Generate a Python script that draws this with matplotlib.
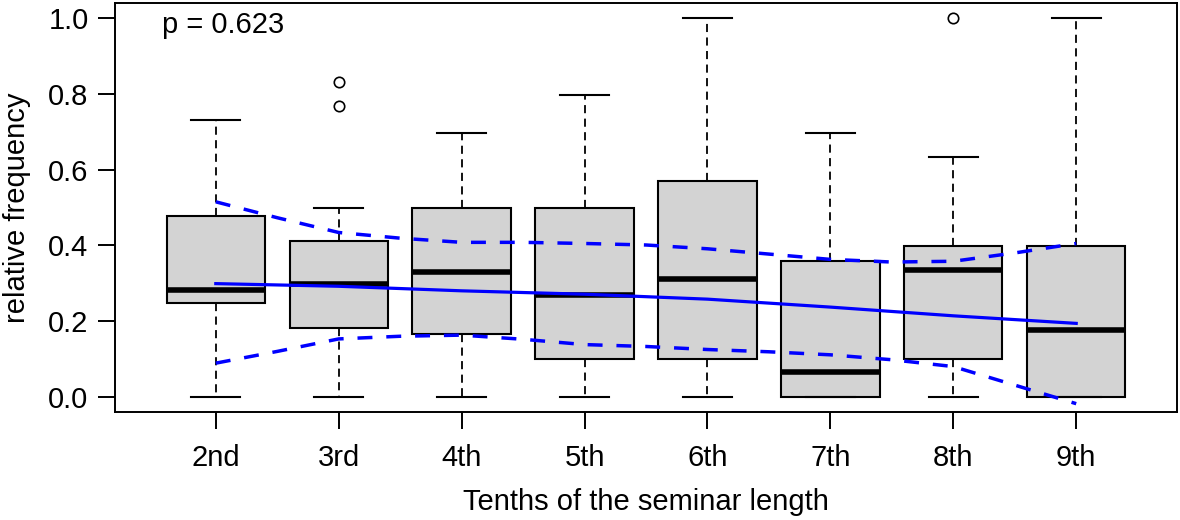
import numpy as np
import matplotlib
matplotlib.use("Agg")
import matplotlib.pyplot as plt

# --- Data ---
labels = ['2nd', '3rd', '4th', '5th', '6th', '7th', '8th', '9th']
q1 = [0.249, 0.181, 0.166, 0.100, 0.100, 0.0, 0.100, 0.0]
medians = [0.283, 0.299, 0.331, 0.268, 0.311, 0.065, 0.335, 0.176]
q3 = [0.478, 0.411, 0.498, 0.500, 0.571, 0.358, 0.398, 0.398]
whisk_lo = [0.0, 0.0, 0.0, 0.0, 0.0, 0.0, 0.0, 0.0]
whisk_hi = [0.730, 0.498, 0.697, 0.797, 1.0, 0.697, 0.633, 1.0]
outliers = [[], [0.832, 0.768], [], [], [], [], [1.0], []]

# fitted trend at each tenth
fit_vals = [0.299, 0.292, 0.280, 0.271, 0.258, 0.237, 0.214, 0.194]

# confidence band, read at half steps
band_x = [1.0, 1.5, 2.0, 2.5, 3.0, 3.5, 4.0, 4.5, 5.0, 5.5, 6.0, 6.5, 7.0, 7.5, 8.0]
band_hi = [0.515, 0.473, 0.434, 0.419, 0.408, 0.408, 0.405, 0.401, 0.391,
           0.377, 0.363, 0.356, 0.358, 0.380, 0.405]
band_lo = [0.089, 0.120, 0.153, 0.160, 0.163, 0.152, 0.138, 0.133, 0.125,
           0.119, 0.111, 0.098, 0.080, 0.031, -0.018]

p_text = "p = 0.623"

plt.rcParams['font.family'] = ['Liberation Sans', 'DejaVu Sans']
FS = 21

fig = plt.figure(figsize=(11.8, 5.2), dpi=100)
ax = fig.add_axes([115 / 1180, 1 - 412 / 520, 1062 / 1180, 409 / 520])

positions = np.arange(1, len(labels) + 1)
stats = []
for i in range(len(labels)):
    stats.append(dict(med=medians[i], q1=q1[i], q3=q3[i],
                      whislo=whisk_lo[i], whishi=whisk_hi[i],
                      fliers=outliers[i], label=labels[i]))

ax.bxp(stats, positions=positions, widths=0.8, capwidths=0.4, patch_artist=True,
       boxprops=dict(facecolor='#d3d3d3', edgecolor='black', linewidth=1.5),
       medianprops=dict(color='black', linewidth=4, solid_capstyle='butt'),
       whiskerprops=dict(color='black', linewidth=1.3, linestyle=(0, (4.5, 3))),
       capprops=dict(color='black', linewidth=1.5),
       flierprops=dict(marker='o', markerfacecolor='none', markeredgecolor='black',
                       markersize=7.5, markeredgewidth=1.2))

# --- trend line and band ---
ax.plot(positions, fit_vals, color='blue', linewidth=2.3, zorder=5)
ax.plot(band_x, band_hi, color='blue', linewidth=2.5, linestyle=(0, (4.3, 4)), zorder=5)
ax.plot(band_x, band_lo, color='blue', linewidth=2.5, linestyle=(0, (4.3, 4)), zorder=5)

ax.text((162 - 115) / 1062, (412 - 33) / 409, p_text, transform=ax.transAxes,
        ha='left', va='baseline', fontsize=FS)

# --- axes styling ---
ax.set_xlim(0.18, 8.82)
ax.set_ylim(-0.04, 1.04)
ax.set_xticks(positions)
ax.set_xticklabels(labels)
ax.set_yticks([0.0, 0.2, 0.4, 0.6, 0.8, 1.0])
ax.set_yticklabels(['0.0', '0.2', '0.4', '0.6', '0.8', '1.0'])
ax.tick_params(axis='both', labelsize=FS, length=12, width=1.4, color='black')
ax.tick_params(axis='x', pad=11)
ax.tick_params(axis='y', pad=7)
for s in ax.spines.values():
    s.set_linewidth(1.4)

ax.set_xlabel("Tenths of the seminar length", fontsize=FS)
ax.xaxis.label.set_va('baseline')
ax.xaxis.set_label_coords(0.5, (412 - 510) / 409)
ax.set_ylabel("relative frequency", fontsize=FS)
ax.yaxis.label.set_va('baseline')
ax.yaxis.set_label_coords((25 - 115) / 1062, 0.5)

fig.savefig("out.png", dpi=100)
